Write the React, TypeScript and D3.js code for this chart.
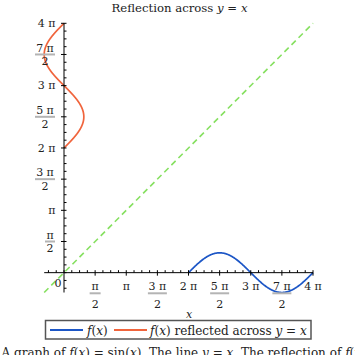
import React from "react";
import * as d3 from "d3";

const PI = Math.PI;
const domainMin = -1;
const domainMax = 4 * PI;
// sampled sine: f(x) = sin(x) for x in [2π, 4π]
const sampleXs: number[] = d3.range(0, 401).map((i) => 2 * PI + (2 * PI * i) / 400);
const sineSeries: [number, number][] = sampleXs.map((x) => [x, Math.sin(x)]);
const reflectedSeries: [number, number][] = sineSeries.map(([x, y]) => [y, x]);
const diagonal: [number, number][] = [[-1, -1], [4 * PI, 4 * PI]];

// tick labels: [numerator, denominator|null], at k*π/2
const tickMultiples = [1, 2, 3, 4, 5, 6, 7, 8];
const tickLabels: [string, string | null][] = [
  ["π", "2"],
  ["π", null],
  ["3 π", "2"],
  ["2 π", null],
  ["5 π", "2"],
  ["3 π", null],
  ["7 π", "2"],
  ["4 π", null],
];
const legendLabels = ["f(x)", "f(x) reflected across y = x"];

const FONT = "DejaVu Serif";
const BLUE = "#1c56c6";
const ORANGE = "#f0643c";
const GREEN = "#86e060";
const BAR = "#b4b4b4";

function MathText({ text, ...rest }: any) {
  const parts = text.split(/(\bf(?=\()|\bx\b|\by\b)/);
  return (
    <text {...rest}>
      {parts.map((p: string, i: number) =>
        p === "f" || p === "x" || p === "y" ? (
          <tspan key={i} fontStyle="italic">{p}</tspan>
        ) : (
          <tspan key={i}>{p}</tspan>
        )
      )}
    </text>
  );
}

export default function App() {
  const xS = d3.scaleLinear().domain([domainMin, domainMax]).range([44.2, 313]);
  const yS = d3.scaleLinear().domain([domainMin, domainMax]).range([292.5, 23.3]);
  const x0 = xS(0);
  const y0 = yS(0);
  const line = d3.line<[number, number]>().x((d) => xS(d[0])).y((d) => yS(d[1]));

  const minorTicks = d3.range(-2, 33).map((i) => (i * PI) / 8).filter((v) => v >= domainMin - 1e-9);

  const fs = 11;
  const charW = (s: string) => (s.length === 1 ? 7 : 15);

  return (
    <svg width={355} height={355} style={{ position: "absolute", left: 0, top: 0 }} fontFamily={FONT}>
      <rect width={355} height={355} fill="#fff" />
      <MathText text="Reflection across y = x" x={179.5} y={12} fontSize={11.7} textAnchor="middle" fill="#222" />

      <path d={line(diagonal) || ""} stroke={GREEN} strokeWidth={1.6} strokeDasharray="6,4" fill="none" />
      <path d={line(sineSeries) || ""} stroke={BLUE} strokeWidth={1.7} fill="none" />
      <path d={line(reflectedSeries) || ""} stroke={ORANGE} strokeWidth={1.7} fill="none" />

      <line x1={xS(domainMin)} x2={xS(domainMax)} y1={y0} y2={y0} stroke="#000" strokeWidth={1} />
      <line x1={x0} x2={x0} y1={yS(domainMin)} y2={yS(domainMax)} stroke="#000" strokeWidth={1} />
      {minorTicks.map((v, i) => {
        const major = Math.abs((v / (PI / 2)) % 1) < 1e-6 && v !== 0;
        return (
          <g key={i}>
            <line x1={xS(v)} x2={xS(v)} y1={y0 - 2.5} y2={y0 + (major ? 3 : 0)} stroke="#000" />
            <line x1={x0 - (major ? 3 : 0)} x2={x0 + 2.5} y1={yS(v)} y2={yS(v)} stroke="#000" />
          </g>
        );
      })}

      {tickMultiples.map((k, i) => {
        const [num, den] = tickLabels[i];
        const cx = xS((k * PI) / 2);
        if (!den) {
          return (
            <text key={"x" + i} x={cx} y={290} fontSize={fs} textAnchor="middle" fill="#222">{num}</text>
          );
        }
        const w = charW(num) + 4;
        return (
          <g key={"x" + i}>
            <text x={cx} y={290} fontSize={fs} textAnchor="middle" fill="#222">{num}</text>
            <line x1={cx - w / 2} x2={cx + w / 2} y1={293.3} y2={293.3} stroke={BAR} strokeWidth={2} />
            <text x={cx} y={307.5} fontSize={fs} textAnchor="middle" fill="#222">{den}</text>
          </g>
        );
      })}
      <text x={58} y={287} fontSize={fs} textAnchor="middle" fill="#222">0</text>

      {tickMultiples.map((k, i) => {
        const [num, den] = tickLabels[i];
        const cy = yS((k * PI) / 2);
        if (!den) {
          return (
            <text key={"y" + i} x={55.5} y={cy + 3.8} fontSize={fs} textAnchor="end" fill="#222">{num}</text>
          );
        }
        const w = charW(num) + (num.length === 1 ? 3 : 5);
        const cx = 55 - w / 2;
        return (
          <g key={"y" + i}>
            <text x={cx} y={cy - 2.8} fontSize={fs} textAnchor="middle" fill="#222">{num}</text>
            <line x1={55 - w} x2={55} y1={cy} y2={cy} stroke={BAR} strokeWidth={2} />
            <text x={cx} y={cy + 11} fontSize={fs} textAnchor="middle" fill="#222">{den}</text>
          </g>
        );
      })}

      <text x={189} y={318} fontSize={11} fontStyle="italic" textAnchor="middle" fill="#222">x</text>

      <rect x={45.5} y={320.5} width={265.5} height={18.5} fill="#fff" stroke="#555" strokeWidth={1.5} />
      <line x1={50} x2={83} y1={330} y2={330} stroke={BLUE} strokeWidth={2} />
      <MathText text={legendLabels[0]} x={87} y={334.5} fontSize={12} fill="#222" />
      <line x1={114} x2={147} y1={330} y2={330} stroke={ORANGE} strokeWidth={2} />
      <MathText text={legendLabels[1]} x={150} y={334.5} fontSize={12} fill="#222" />

      <MathText
        text="A graph of f(x) = sin(x). The line y = x. The reflection of f(x) across the line y = x."
        x={1.5}
        y={357}
        fontSize={12}
        fill="#222"
      />
    </svg>
  );
}
